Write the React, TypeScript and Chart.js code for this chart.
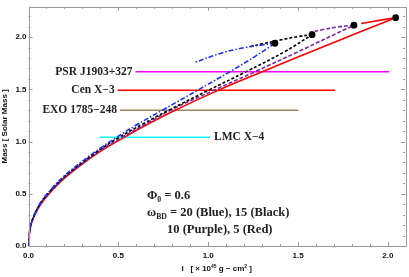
import React, { useEffect, useRef } from "react";
import { Chart, registerables } from "chart.js";
Chart.register(...registerables);

// ---- data (I in 10^45 g cm^2, M in solar masses) ----
const blueMainI = [0, 0.003, 0.012, 0.035, 0.07, 0.125, 0.2, 0.3, 0.4, 0.48, 0.6, 0.75, 0.94, 1.12, 1.27, 1.371];
const blueMainM = [0, 0.094, 0.198, 0.31, 0.423, 0.541, 0.672, 0.812, 0.937, 1.03, 1.158, 1.305, 1.49, 1.668, 1.825, 1.941];
const blueUpI = [1.371, 1.3, 1.2, 1.08, 0.92];
const blueUpM = [1.941, 1.925, 1.898, 1.85, 1.755];

const blackMainI = [0, 0.003, 0.012, 0.035, 0.07, 0.125, 0.2, 0.3, 0.4, 0.5, 0.64, 0.78, 1.0, 1.21, 1.42, 1.578];
const blackMainM = [0, 0.093, 0.196, 0.306, 0.418, 0.535, 0.664, 0.8, 0.925, 1.036, 1.172, 1.3, 1.49, 1.668, 1.855, 2.023];
const blackUpI = [1.578, 1.5, 1.4, 1.3, 1.235];
const blackUpM = [2.023, 2.005, 1.972, 1.935, 1.91];

const purpleMainI = [0, 0.003, 0.012, 0.035, 0.071, 0.126, 0.2, 0.3, 0.4, 0.52, 0.66, 0.79, 1.03, 1.26, 1.5, 1.811];
const purpleMainM = [0, 0.092, 0.194, 0.303, 0.414, 0.53, 0.658, 0.792, 0.917, 1.04, 1.175, 1.3, 1.49, 1.668, 1.86, 2.114];
const purpleUpI = [1.811, 1.72, 1.64, 1.565];
const purpleUpM = [2.114, 2.097, 2.072, 2.045];

const redMainI = [0, 0.003, 0.012, 0.035, 0.072, 0.127, 0.2, 0.293, 0.404, 0.53, 0.67, 0.81, 1.055, 1.3, 1.65, 2.043];
const redMainM = [0, 0.09, 0.19, 0.3, 0.41, 0.525, 0.65, 0.778, 0.91, 1.038, 1.172, 1.295, 1.49, 1.668, 1.915, 2.186];
const redUpI = [2.043, 1.95, 1.851];
const redUpM = [2.186, 2.16, 2.13];

const maxI = [1.371, 1.578, 1.811, 2.043];
const maxM = [1.941, 2.023, 2.114, 2.186];

const obsNames = ["PSR J1903+327", "Cen X\u22123", "EXO 1785\u2212248", "LMC X\u22124"];
const obsMass = [1.667, 1.49, 1.3, 1.04];
const obsStart = [0.595, 0.496, 0.509, 0.395];
const obsEnd = [2.006, 1.705, 1.502, 1.01];

const xTickValues = [0, 0.5, 1.0, 1.5, 2.0];
const yTickValues = [0, 0.5, 1.0, 1.5, 2.0];

// ---- styles ----
const obsColors = ["#ff00ff", "#ff0000", "#a0825f", "#00ffff"];
const obsLabelRight = [false, false, false, true];
const SERIF = "'Liberation Serif', serif";
const SANS = "'Liberation Sans', Arial, sans-serif";

const pts = (xs: number[], ys: number[]) => xs.map((x, i) => ({ x, y: ys[i] }));

type Part = { t: string; sub?: boolean; sup?: boolean };
function drawRich(ctx: CanvasRenderingContext2D, parts: Part[], x: number, y: number, size: number, family: string, align: "left" | "center") {
  const fontFor = (p: Part) => `bold ${p.sub || p.sup ? size * 0.62 : size}px ${family}`;
  let w = 0;
  parts.forEach((p) => { ctx.font = fontFor(p); w += ctx.measureText(p.t).width; });
  let cx = align === "center" ? x - w / 2 : x;
  ctx.textBaseline = "middle";
  ctx.textAlign = "left";
  parts.forEach((p) => {
    ctx.font = fontFor(p);
    const dy = p.sub ? size * 0.3 : p.sup ? -size * 0.35 : 0;
    ctx.fillText(p.t, cx, y + dy);
    cx += ctx.measureText(p.t).width;
  });
}

const decorPlugin = {
  id: "decor",
  afterDatasetsDraw(chart: any) {
    const { ctx, chartArea: a, scales } = chart;
    const xs = scales.x, ys = scales.y;
    ctx.save();
    // frame
    ctx.strokeStyle = "#9a9a9a";
    ctx.lineWidth = 1;
    ctx.setLineDash([]);
    ctx.strokeRect(Math.round(a.left) + 0.5, Math.round(a.top) + 0.5, Math.round(a.right - a.left), Math.round(a.bottom - a.top));
    // inside ticks on all four sides
    ctx.beginPath();
    for (let k = 0; k <= 21; k++) {
      const v = k / 10;
      if (v > xs.max) break;
      const L = k % 5 === 0 ? 4 : 2;
      const px = Math.round(xs.getPixelForValue(v)) + 0.5;
      ctx.moveTo(px, a.bottom); ctx.lineTo(px, a.bottom - L);
      ctx.moveTo(px, a.top); ctx.lineTo(px, a.top + L);
    }
    for (let k = 0; k <= 23; k++) {
      const v = k / 10;
      if (v > ys.max) break;
      const L = k % 5 === 0 ? 4 : 2;
      const py = Math.round(ys.getPixelForValue(v)) + 0.5;
      ctx.moveTo(a.left, py); ctx.lineTo(a.left + L, py);
      ctx.moveTo(a.right, py); ctx.lineTo(a.right - L, py);
    }
    ctx.stroke();

    // observation labels
    ctx.fillStyle = "#222";
    ctx.font = `bold 11.5px ${SERIF}`;
    ctx.textBaseline = "middle";
    obsNames.forEach((name, i) => {
      const py = ys.getPixelForValue(obsMass[i]);
      if (obsLabelRight[i]) {
        ctx.textAlign = "left";
        ctx.fillText(name, xs.getPixelForValue(obsEnd[i]) + 4, py);
      } else {
        ctx.textAlign = "right";
        ctx.fillText(name, xs.getPixelForValue(obsStart[i]) - 3, py);
      }
    });

    // parameter annotation
    drawRich(ctx, [{ t: "\u03A6" }, { t: "0", sub: true }, { t: " = 0.6" }], 147, 196, 12.5, SERIF, "left");
    drawRich(ctx, [{ t: "\u03C9" }, { t: "BD", sub: true }, { t: " = 20 (Blue), 15 (Black)" }], 147, 213, 12.5, SERIF, "left");
    drawRich(ctx, [{ t: "10 (Purple), 5 (Red)" }], 167, 230, 12.5, SERIF, "left");

    // axis titles
    ctx.fillStyle = "#111";
    drawRich(ctx, [{ t: "I   [ \u00D7 10" }, { t: "45", sup: true }, { t: " g \u2212 cm" }, { t: "2", sup: true }, { t: " ]" }], (a.left + a.right) / 2, 269, 8, SANS, "center");
    ctx.save();
    ctx.translate(5, (a.top + a.bottom) / 2);
    ctx.rotate(-Math.PI / 2);
    drawRich(ctx, [{ t: "Mass [ Solar Mass ]" }], 0, 0, 8, SANS, "center");
    ctx.restore();
    ctx.restore();
  },
};

export default function App() {
  const ref = useRef<HTMLCanvasElement | null>(null);
  useEffect(() => {
    document.body.style.margin = "0";
    if (!ref.current) return;
    const curve = (data: any, color: string, dash: number[], order: number) => ({
      data,
      showLine: true,
      borderColor: color,
      borderWidth: 1.6,
      borderDash: dash,
      pointRadius: 0,
      fill: false,
      order,
      tension: 0.4,
    });
    const datasets: any[] = [];
    obsNames.forEach((_, i) => {
      datasets.push({
        data: pts([obsStart[i], obsEnd[i]], [obsMass[i], obsMass[i]]),
        showLine: true, borderColor: obsColors[i], borderWidth: 1.5, pointRadius: 0, order: 10,
      });
    });
    datasets.push(curve(pts(redMainI, redMainM), "#ff0000", [], 4));
    datasets.push(curve(pts(redUpI, redUpM), "#ff0000", [], 4));
    datasets.push(curve(pts(purpleMainI, purpleMainM), "#7d2a9e", [4, 2], 3));
    datasets.push(curve(pts(purpleUpI, purpleUpM), "#7d2a9e", [4, 2], 3));
    datasets.push(curve(pts(blackMainI, blackMainM), "#000000", [3, 2], 2));
    datasets.push(curve(pts(blackUpI, blackUpM), "#000000", [3, 2], 2));
    datasets.push(curve(pts(blueMainI, blueMainM), "#1a2ff0", [5, 2, 1.5, 2], 1));
    datasets.push(curve(pts(blueUpI, blueUpM), "#1a2ff0", [5, 2, 1.5, 2], 1));
    datasets.push({
      data: pts(maxI, maxM), showLine: false, pointRadius: 3.4, pointBackgroundColor: "#000",
      pointBorderColor: "#000", pointBorderWidth: 0, order: 0,
    });

    const chart = new Chart(ref.current, {
      type: "scatter",
      data: { datasets },
      options: {
        responsive: false,
        animation: false,
        layout: { padding: { top: 1, right: 2, left: 0, bottom: 0 } },
        plugins: { legend: { display: false }, tooltip: { enabled: false } },
        scales: {
          x: {
            type: "linear", min: 0, max: 2.095,
            grid: { display: false, drawTicks: false },
            border: { display: false },
            afterBuildTicks: (s: any) => { s.ticks = xTickValues.map((v) => ({ value: v })); },
            afterFit: (s: any) => { s.height = 31; },
            ticks: { padding: 5, color: "#111", font: { family: SANS, size: 8, weight: "bold" }, callback: (v: any) => Number(v).toFixed(1), maxRotation: 0 },
          },
          y: {
            type: "linear", min: 0, max: 2.29,
            grid: { display: false, drawTicks: false },
            border: { display: false },
            afterBuildTicks: (s: any) => { s.ticks = yTickValues.map((v) => ({ value: v })); },
            afterFit: (s: any) => { s.width = 28.5; },
            ticks: { padding: 2, color: "#111", font: { family: SANS, size: 8, weight: "bold" }, callback: (v: any) => Number(v).toFixed(1) },
          },
        },
      } as any,
      plugins: [decorPlugin],
    });
    return () => chart.destroy();
  }, []);
  return (
    <div style={{ width: 409, height: 277 }}>
      <canvas ref={ref} width={409} height={277} />
    </div>
  );
}
